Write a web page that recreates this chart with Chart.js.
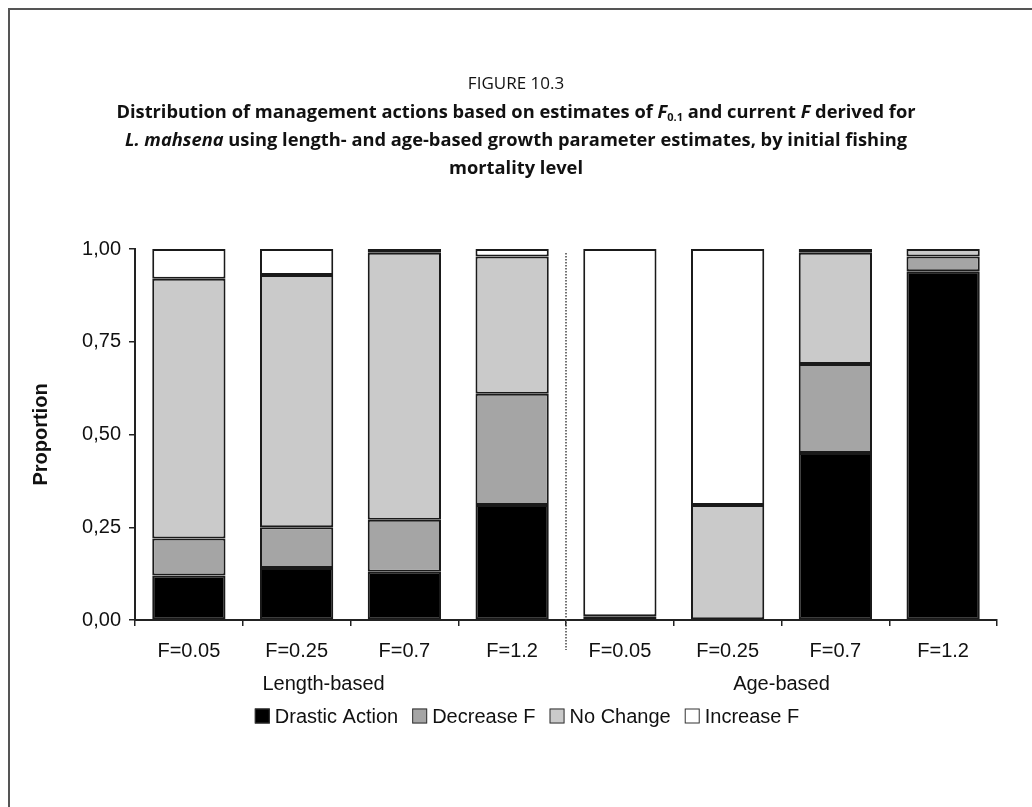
<!DOCTYPE html>
<html><head><meta charset="utf-8">
<script src="https://cdn.jsdelivr.net/npm/chart.js@4/dist/chart.umd.min.js"></script>
<style>
html,body{margin:0;padding:0;background:#fff;}
body{width:1032px;height:807px;position:relative;overflow:hidden;}
#frame{position:absolute;left:8px;top:8px;width:1100px;height:900px;border-left:2px solid #555;border-top:2px solid #555;}
canvas{position:absolute;left:0;top:0;}
.tl{position:absolute;left:0;width:1032px;text-align:center;font-family:"Open Sans",sans-serif;color:#111;white-space:nowrap;}
.fig{font-size:17px;line-height:24px;top:71px;}
.cap{font-size:18.3px;font-weight:bold;line-height:28px;}
sub{font-size:11px;vertical-align:-3px;}
</style></head><body>
<div id="frame"></div>
<canvas id="c" width="1032" height="807"></canvas>
<div class="tl fig">FIGURE 10.3</div>
<div class="tl cap" style="top:97px">Distribution of management actions based on estimates of <i>F</i><sub>0.1</sub> and current <i>F</i> derived for</div>
<div class="tl cap" style="top:125px"><i>L. mahsena</i> using length- and age-based growth parameter estimates, by initial fishing</div>
<div class="tl cap" style="top:153px">mortality level</div>
<script>
const categories = ['F=0.05','F=0.25','F=0.7','F=1.2','F=0.05','F=0.25','F=0.7','F=1.2'];
const groups = ['Length-based','Age-based'];
const seriesNames = ['Drastic Action','Decrease F','No Change','Increase F'];
const drastic  = [0.12,0.14,0.13,0.31,0.00,0.00,0.45,0.94];
const decrease = [0.10,0.11,0.14,0.30,0.01,0.00,0.24,0.04];
const noChange = [0.70,0.68,0.72,0.37,0.00,0.31,0.30,0.02];
const increase = [0.08,0.07,0.01,0.02,0.99,0.69,0.01,0.00];
const yTicks = [0,0.25,0.5,0.75,1];
const colors = ['#000000','#a5a5a5','#cacaca','#ffffff'];

const FONT = '"Liberation Sans", Arial, sans-serif';
const seriesValues = [drastic, decrease, noChange, increase];

const extras = {
  id:'extras',
  afterDraw(chart){
    const ctx = chart.ctx, x = chart.scales.x, a = chart.chartArea;
    ctx.save();
    // dotted divider between the groups
    const xd = (x.getPixelForValue(3)+x.getPixelForValue(4))/2;
    ctx.strokeStyle='#444'; ctx.lineWidth=1.5; ctx.setLineDash([1.5,1.5]);
    ctx.beginPath(); ctx.moveTo(xd, a.top+4); ctx.lineTo(xd, a.bottom+30); ctx.stroke();
    ctx.setLineDash([]);
    // group labels
    ctx.fillStyle='#111'; ctx.font='20px '+FONT; ctx.textAlign='center'; ctx.textBaseline='middle';
    ctx.fillText(groups[0], x.getPixelForValue(1.25), a.bottom+64);
    ctx.fillText(groups[1], x.getPixelForValue(5.5), a.bottom+64);
    // legend
    const box=15, gap=5, itemGap=14;
    const widths = seriesNames.map(n=>box+gap+ctx.measureText(n).width);
    const total = widths.reduce((s,w)=>s+w,0)+itemGap*(seriesNames.length-1);
    let lx = 527 - total/2; const ly = a.bottom+96;
    ctx.textAlign='left';
    seriesNames.forEach((n,i)=>{
      ctx.fillStyle=colors[i]; ctx.fillRect(lx, ly-box/2, box, box);
      ctx.strokeStyle='#333'; ctx.lineWidth=1; ctx.strokeRect(lx+0.5, ly-box/2+0.5, box-1, box-1);
      ctx.fillStyle='#111'; ctx.fillText(n, lx+box+gap, ly+1);
      lx += widths[i]+itemGap;
    });
    ctx.restore();
  }
};

new Chart(document.getElementById('c'), {
  type:'bar',
  data:{
    labels: categories,
    datasets: seriesNames.map((n,i)=>({
      label:n, data:seriesValues[i], backgroundColor:colors[i],
      borderColor:'#1a1a1a', borderWidth:2, borderSkipped:false,
      barPercentage:0.68, categoryPercentage:1.0
    }))
  },
  options:{
    responsive:false, animation:false, devicePixelRatio:1,
    layout:{padding:{top:249,right:35,left:0,bottom:0}},
    plugins:{legend:{display:false},tooltip:{enabled:false},title:{display:false}},
    scales:{
      x:{
        stacked:true, offset:true,
        grid:{offset:true, drawOnChartArea:false, drawTicks:true, tickLength:6, color:'#222', lineWidth:1.5},
        border:{display:true, color:'#222', width:2},
        ticks:{font:{family:FONT,size:20}, color:'#111', padding:13, maxRotation:0, autoSkip:false},
        afterFit(s){ s.height = 187; }
      },
      y:{
        stacked:true, min:0, max:1,
        afterBuildTicks(s){ s.ticks = yTicks.map(v=>({value:v})); },
        grid:{drawOnChartArea:false, drawTicks:true, tickLength:6, color:'#222', lineWidth:1.5},
        border:{display:true, color:'#222', width:2},
        ticks:{font:{family:FONT,size:20}, color:'#111', padding:8, callback:v=>Number(v).toFixed(2).replace('.',',')},
        title:{display:true, text:'Proportion', color:'#111', font:{family:FONT,size:20,weight:'bold'}, padding:{top:29,bottom:0}},
        afterFit(s){ s.width = 135; }
      }
    }
  },
  plugins:[extras]
});
</script>
</body></html>
